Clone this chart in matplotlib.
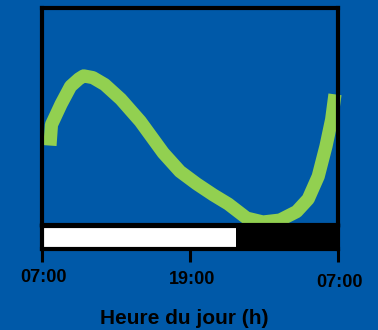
import matplotlib
matplotlib.use('Agg')
import matplotlib.pyplot as plt
from matplotlib.transforms import ScaledTranslation

# hours after 07:00 and relative activity
hours = [0.65, 0.77, 1.55, 2.32, 2.99, 3.38, 4.13, 5.09, 6.39, 7.97, 9.84,
         11.19, 12.54, 13.89, 15.11, 16.60, 17.92, 19.30, 20.65, 21.59, 22.40,
         23.03, 23.49, 23.76]
activity = [36.6, 46.2, 55.7, 63.9, 67.3, 68.7, 67.9, 64.7, 58.0, 47.8, 33.2,
            24.7, 19.0, 13.9, 9.7, 3.2, 1.4, 2.3, 6.2, 12.0, 22.4,
            36.3, 48.6, 60.2]

tick_pos = [0, 12, 24]
tick_labels = ['07:00', '19:00', '07:00']
light_start, dark_start, day_end = 0, 15.7, 24

bg = '#0059a8'
green = '#92d050'

plt.rcParams['font.family'] = ['Liberation Sans', 'DejaVu Sans']
plt.rcParams['font.weight'] = 'bold'

fig = plt.figure(figsize=(3.78, 3.30), dpi=100, facecolor=bg)

ax = fig.add_axes([0.111, 0.318, 0.783, 0.658])
ax.set_facecolor(bg)
ax.plot(hours, activity, color=green, lw=9.5, solid_capstyle='butt',
        solid_joinstyle='round', clip_on=False)
ax.set_xlim(0, 24)
ax.set_ylim(0, 100)
ax.set_xticks([])
ax.set_yticks([])
for s in ax.spines.values():
    s.set_linewidth(3)
    s.set_color('black')

# light / dark bar
axb = fig.add_axes([0.111, 0.245, 0.783, 0.070])
axb.barh(0, dark_start - light_start, left=light_start, height=1, color='white')
axb.barh(0, day_end - dark_start, left=dark_start, height=1, color='black')
axb.set_xlim(0, 24)
axb.set_ylim(-0.5, 0.5)
axb.set_yticks([])
axb.set_xticks(tick_pos)
axb.set_xticklabels(tick_labels, fontsize=13, fontweight='bold')
axb.tick_params(axis='x', length=9, width=2.2, pad=4, color='black')
for s in axb.spines.values():
    s.set_linewidth(3)
    s.set_color('black')

# the three labels sit slightly staggered in the original
for lbl, dy in zip(axb.get_xticklabels(), [-2, -4, -7]):
    lbl.set_transform(lbl.get_transform() + ScaledTranslation(2 / 100, dy / 100, fig.dpi_scale_trans))

axb.set_xlabel('Heure du jour (h)', fontsize=15, fontweight='bold', labelpad=14)
axb.xaxis.set_label_coords(0.48, -2.6)

fig.savefig('out.png', dpi=100, facecolor=bg)
